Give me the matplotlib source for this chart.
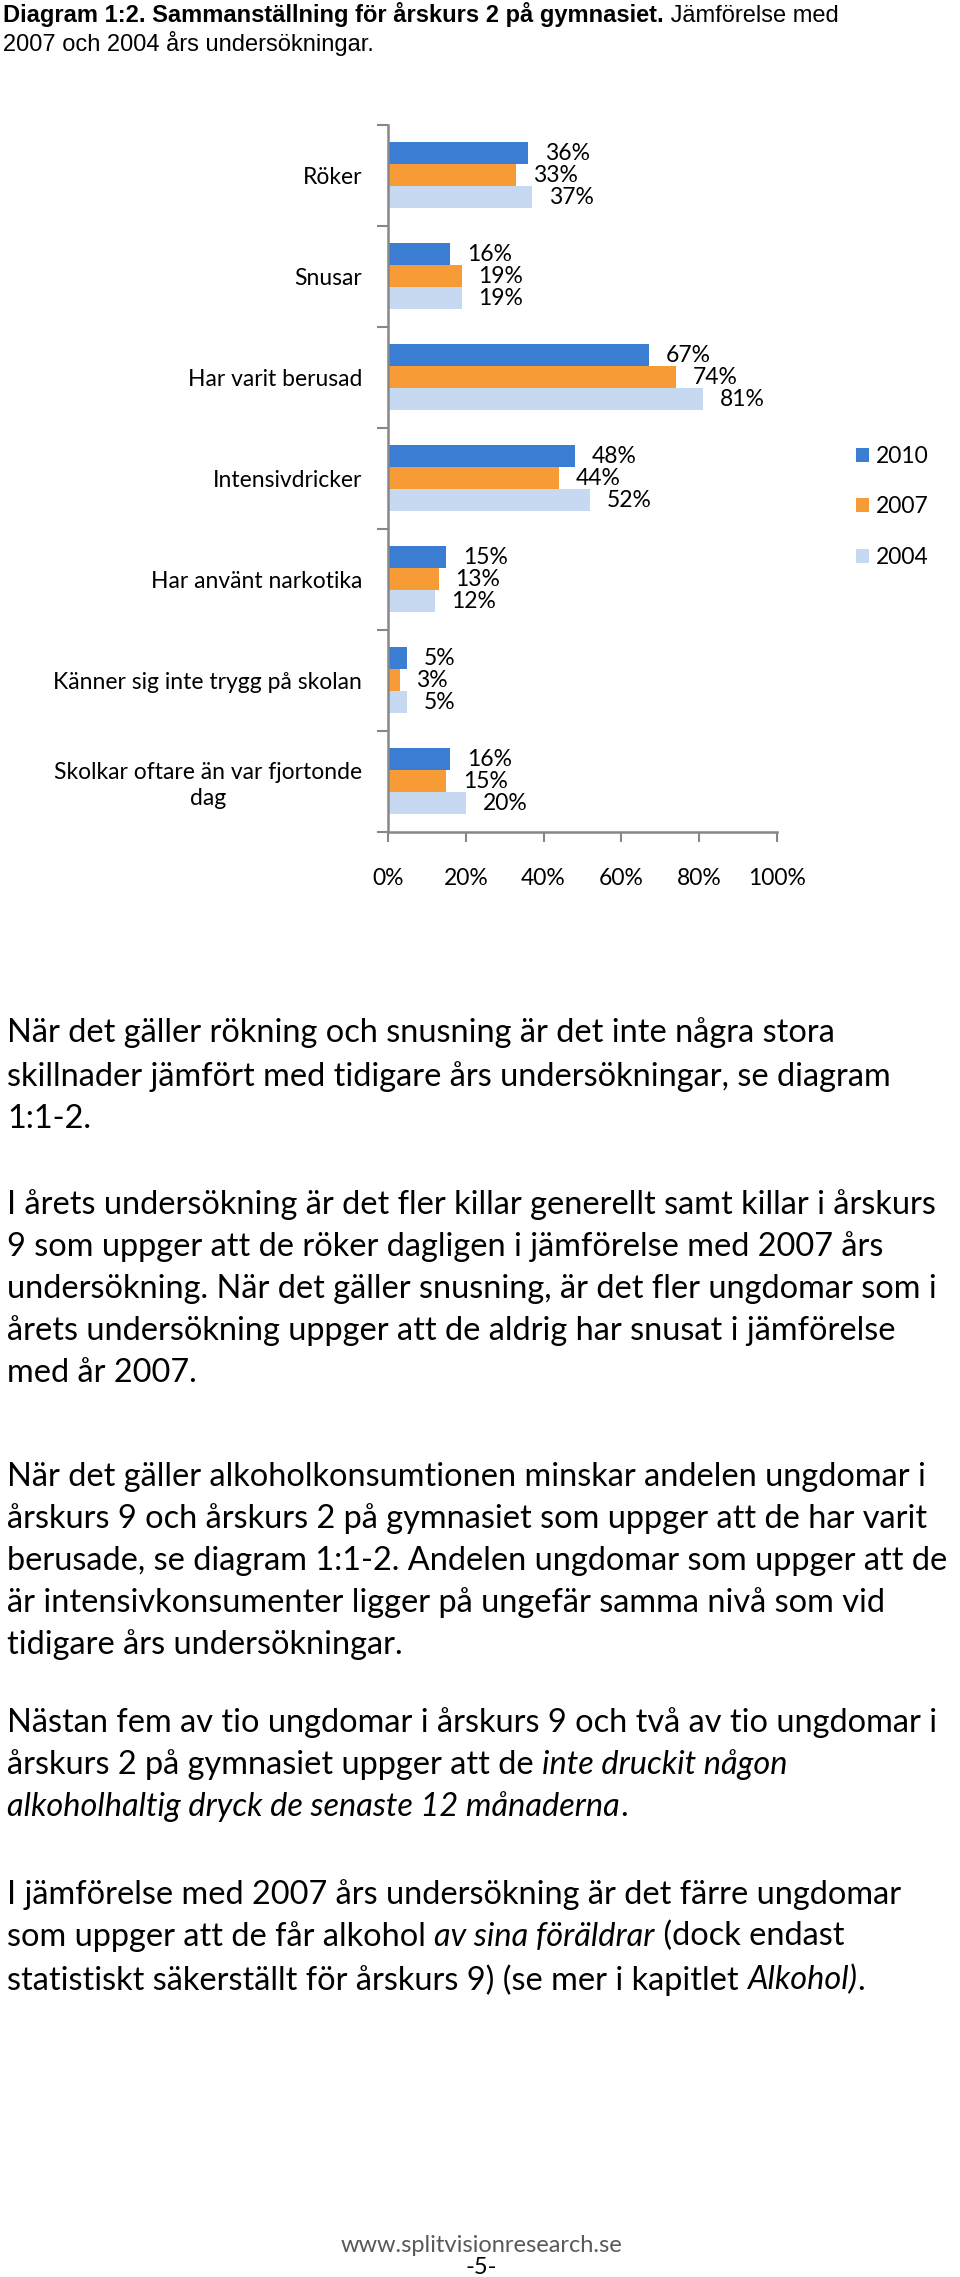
import matplotlib
matplotlib.use("Agg")
import matplotlib.pyplot as plt
from matplotlib.font_manager import FontProperties
import numpy as np

# ---------------- data ----------------
categories = [
    "Röker",
    "Snusar",
    "Har varit berusad",
    "Intensivdricker",
    "Har använt narkotika",
    "Känner sig inte trygg på skolan",
    "Skolkar oftare än var fjortonde\ndag",
]
values_2010 = [36, 16, 67, 48, 15, 5, 16]
values_2007 = [33, 19, 74, 44, 13, 3, 15]
values_2004 = [37, 19, 81, 52, 12, 5, 20]
series_labels = ["2010", "2007", "2004"]
series_colors = ["#3B7DD3", "#F79B37", "#C6D9F0"]
x_ticks = [0, 20, 40, 60, 80, 100]
x_ticklabels = ["0%", "20%", "40%", "60%", "80%", "100%"]

title_bold = "Diagram 1:2. Sammanställning för årskurs 2 på gymnasiet."
title_rest1 = " Jämförelse med"
title_line2 = "2007 och 2004 års undersökningar."

N, I, = "normal", "italic"
body_lines = [
    (1034, [("När det gäller rökning och snusning är det inte några stora", N)]),
    (1078, [("skillnader jämfört med tidigare års undersökningar, se diagram", N)]),
    (1119, [("1:1-2.", N)]),
    (1205, [("I årets undersökning är det fler killar generellt samt killar i årskurs", N)]),
    (1248, [("9 som uppger att de röker dagligen i jämförelse med 2007 års", N)]),
    (1290, [("undersökning. När det gäller snusning, är det fler ungdomar som i", N)]),
    (1332, [("årets undersökning uppger att de aldrig har snusat i jämförelse", N)]),
    (1374, [("med år 2007.", N)]),
    (1477, [("När det gäller alkoholkonsumtionen minskar andelen ungdomar i", N)]),
    (1519, [("årskurs 9 och årskurs 2 på gymnasiet som uppger att de har varit", N)]),
    (1561, [("berusade, se diagram 1:1-2. Andelen ungdomar som uppger att de", N)]),
    (1603, [("är intensivkonsumenter ligger på ungefär samma nivå som vid", N)]),
    (1646, [("tidigare års undersökningar.", N)]),
    (1724, [("Nästan fem av tio ungdomar i årskurs 9 och två av tio ungdomar i", N)]),
    (1766, [("årskurs 2 på gymnasiet uppger att de ", N), ("inte druckit någon", I)]),
    (1808, [("alkoholhaltig dryck de senaste 12 månaderna", I), (".", N)]),
    (1895, [("I jämförelse med 2007 års undersökning är det färre ungdomar", N)]),
    (1937, [("som uppger att de får alkohol ", N), ("av sina föräldrar", I), (" (dock endast", N)]),
    (1981, [("statistiskt säkerställt för årskurs 9) (se mer i kapitlet ", N), ("Alkohol)", I), (".", N)]),
]
footer_url = "www.splitvisionresearch.se"
footer_page = "-5-"

# ---------------- layout ----------------
W, H = 960, 2277
fig = plt.figure(figsize=(W / 100, H / 100), dpi=100)
fig.patch.set_facecolor("white")


def fx(x):
    return x / W


def fy(y):
    return 1 - y / H


renderer = fig.canvas.get_renderer()


def text_width(s, fp):
    w1, _, _ = renderer.get_text_width_height_descent("|" + s + "|", fp, ismath=False)
    w2, _, _ = renderer.get_text_width_height_descent("||", fp, ismath=False)
    return w1 - w2


def draw_line(x, y, segments, size, family, color="black"):
    for s, style, weight in segments:
        fp = FontProperties(family=family, size=size, style=style, weight=weight)
        fig.text(fx(x), fy(y), s, fontproperties=fp, va="baseline", ha="left", color=color)
        x += text_width(s, fp)


TITLE_FONT = "Liberation Sans"
BODY_FONT = "Lato"
CHART_FONT = "Lato"
TITLE_FS = 17
BODY_FS = 23.4
CHART_FS = 16.5
GRAY = "#878787"

# title
draw_line(3, 22, [(title_bold, "normal", "bold"), (title_rest1, "normal", "normal")], TITLE_FS, TITLE_FONT)
draw_line(3, 51, [(title_line2, "normal", "normal")], TITLE_FS, TITLE_FONT)

# chart
ax_left, ax_right, ax_top, ax_bottom = 388, 777, 125, 831.7
ax = fig.add_axes([fx(ax_left), fy(ax_bottom), (ax_right - ax_left) / W, (ax_bottom - ax_top) / H])
n = len(categories)
pos = np.arange(n) + 0.5
bh = 0.218
all_vals = [values_2010, values_2007, values_2004]
containers = []
for k, (vals, lab, col) in enumerate(zip(all_vals, series_labels, series_colors)):
    bars = ax.barh(pos + (k - 1) * bh, vals, height=bh, color=col, label=lab)
    ax.bar_label(bars, labels=[f"{v}%" for v in vals], padding=12,
                 fontsize=CHART_FS, family=CHART_FONT, color="black")
    containers.append(bars)

ax.set_xlim(0, 100)
ax.set_ylim(n, 0)
ax.set_xticks(x_ticks)
ax.set_xticklabels(x_ticklabels, fontsize=CHART_FS, family=CHART_FONT)
ax.set_yticks(np.arange(n + 1))
ax.set_yticklabels([])
ax.set_yticks(pos, minor=True)
ax.set_yticklabels(categories, minor=True, fontsize=CHART_FS, family=CHART_FONT)
for lbl in ax.get_yticklabels(minor=True):
    lbl.set_multialignment("center")
    lbl.set_linespacing(1.3)
ax.tick_params(axis="y", which="minor", length=0, pad=18.5)
ax.tick_params(axis="y", which="major", length=8, width=1.5, color=GRAY)
ax.tick_params(axis="x", which="major", length=7, width=1.5, color=GRAY, pad=19)
for side in ("top", "right"):
    ax.spines[side].set_visible(False)
for side in ("left", "bottom"):
    ax.spines[side].set_color(GRAY)
    ax.spines[side].set_linewidth(1.8)
ax.set_facecolor("none")

fs_px = CHART_FS * 100 / 72
fig.legend(containers, series_labels, loc="center left",
           bbox_to_anchor=(fx(856), fy(507)), frameon=False,
           prop=FontProperties(family=CHART_FONT, size=CHART_FS),
           handlelength=13 / fs_px, handleheight=13 / fs_px,
           handletextpad=7 / fs_px, labelspacing=1.28,
           borderpad=0, borderaxespad=0)

# body text
for y, segs in body_lines:
    draw_line(7, y + 8.5, [(s, st, "normal") for s, st in segs], BODY_FS, BODY_FONT)

# footer
fig.text(fx(481), fy(2245), footer_url, ha="center", va="center",
         fontsize=17, family=BODY_FONT, color="#595959")
fig.text(fx(481), fy(2268), footer_page, ha="center", va="center",
         fontsize=17, family=BODY_FONT, color="black")

fig.savefig("out.png", dpi=100, facecolor="white")
